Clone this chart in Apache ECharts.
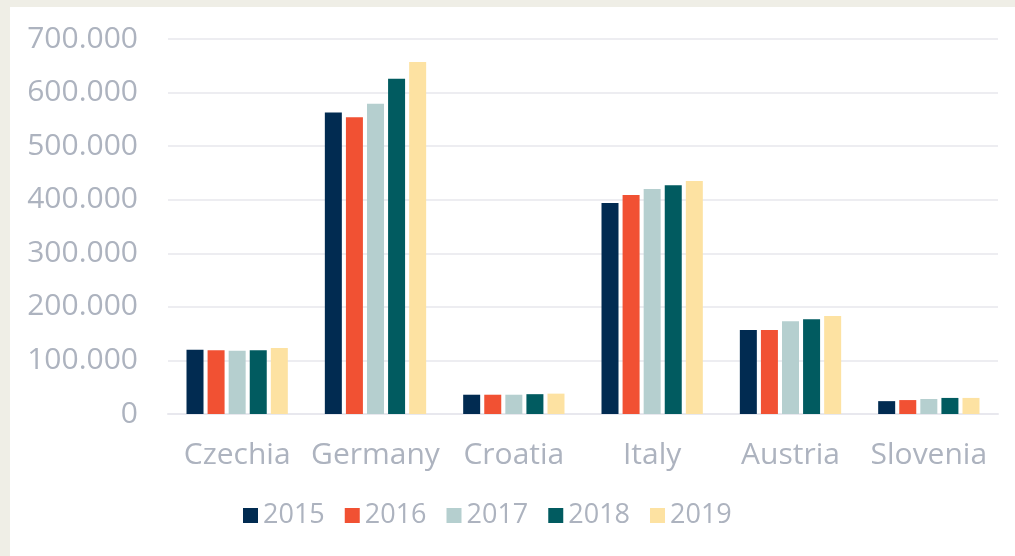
<!DOCTYPE html>
<html>
<head>
<meta charset="utf-8">
<script src="https://cdn.jsdelivr.net/npm/echarts@6/dist/echarts.min.js"></script>
<style>
html,body{margin:0;padding:0;background:#efeee6;width:1015px;height:556px;overflow:hidden;}
#chart{position:absolute;left:10px;top:7px;width:1005px;height:549px;background:#ffffff;}
</style>
</head>
<body>
<div id="chart"></div>
<script>
const categories = ['Czechia', 'Germany', 'Croatia', 'Italy', 'Austria', 'Slovenia'];
const years = ['2015', '2016', '2017', '2018', '2019'];
const v2015 = [120000, 563000, 36000, 394000, 157000, 24000];
const v2016 = [119000, 554000, 36000, 409000, 157000, 26000];
const v2017 = [118000, 579000, 36000, 420000, 173000, 28000];
const v2018 = [119000, 626000, 37000, 427000, 177000, 30000];
const v2019 = [123000, 657000, 38000, 435000, 183000, 30000];
const seriesValues = [v2015, v2016, v2017, v2018, v2019];
const colors = ['#012b51', '#f15133', '#b5cfcf', '#015b60', '#fde2a2'];

const fontFam = '"Open Sans", "Noto Sans", sans-serif';
const textColor = '#adb3bf';

function fmt(v) {
  if (v === 0) return '0';
  return (v / 1000).toFixed(0) + '.000';
}

const chart = echarts.init(document.getElementById('chart'), null, {renderer: 'canvas'});
chart.setOption({
  animation: false,
  color: colors,
  grid: {left: 158, right: 17, top: 32, bottom: 142, containLabel: false},
  legend: {
    data: years,
    left: 233,
    top: 495,
    padding: 0,
    itemWidth: 15,
    itemHeight: 15,
    itemGap: 20,
    icon: 'rect',
    textStyle: {color: textColor, fontSize: 27, fontFamily: fontFam}
  },
  xAxis: {
    type: 'category',
    data: categories,
    axisLine: {show: true, lineStyle: {color: '#e8e8ee', width: 2}},
    axisTick: {show: false},
    axisLabel: {color: textColor, fontSize: 30, fontFamily: fontFam, margin: 26, interval: 0}
  },
  yAxis: {
    type: 'value',
    min: 0,
    max: 700000,
    interval: 100000,
    axisLine: {show: false},
    axisTick: {show: false},
    splitLine: {lineStyle: {color: '#ededf1', width: 2}},
    axisLabel: {color: textColor, fontSize: 30, fontFamily: fontFam, margin: 30, formatter: fmt}
  },
  series: years.map((y, i) => ({
    name: y,
    type: 'bar',
    data: seriesValues[i],
    barWidth: 17,
    barGap: '24%',
    itemStyle: {color: colors[i]}
  }))
});
</script>
</body>
</html>
